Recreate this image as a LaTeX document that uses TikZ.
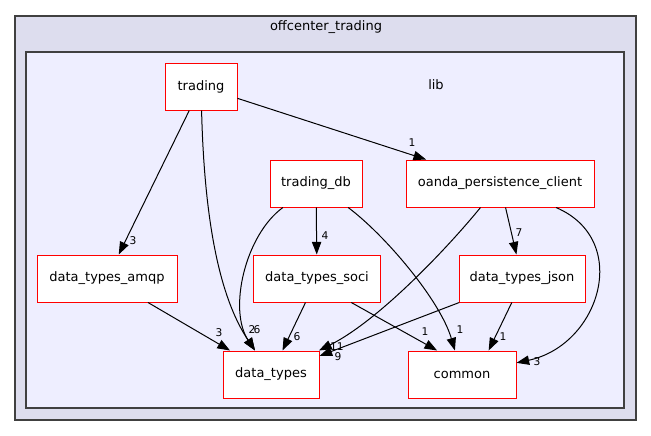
\documentclass[tikz,border=0pt]{standalone}
\usepackage{fontspec}
\setmainfont{DejaVu Sans}
\usetikzlibrary{arrows.meta}
\definecolor{outerbg}{HTML}{DDDDEE}
\definecolor{innerbg}{HTML}{EEEEFF}
\definecolor{frame}{HTML}{404040}

\begin{document}
\begin{tikzpicture}[x=0.75pt,y=-0.75pt,
  dir/.style={draw=red,fill=white,line width=0.75pt,minimum height=35.25pt,inner sep=0pt,font=\fontsize{9.75}{12}\selectfont},
  dep/.style={-{Triangle[length=9.5pt,width=7pt]},black,line width=0.75pt},
  num/.style={font=\fontsize{8}{9}\selectfont,inner sep=0pt},
  title/.style={font=\fontsize{9.75}{12}\selectfont,inner sep=0pt}]
\useasboundingbox (0,0) rectangle (651,436);
\draw[frame,fill=outerbg,line width=0.9pt] (15,16) rectangle (636,420);
\node[title] (offcenter) at (326,27) {offcenter\_trading};
\draw[frame,fill=innerbg,line width=0.9pt] (26,52) rectangle (624,408);
\node[title] (lib) at (436,85) {lib};

\node[dir,minimum width=54pt] (trading) at (201,86.5) {trading};
\node[dir,minimum width=69pt] (tradingdb) at (316,183.5) {trading\_db};
\node[dir,minimum width=141pt] (oanda) at (500,183.5) {oanda\_persistence\_client};
\node[dir,minimum width=105pt] (amqp) at (107,278.5) {data\_types\_amqp};
\node[dir,minimum width=95.25pt] (soci) at (317,278.5) {data\_types\_soci};
\node[dir,minimum width=94.5pt] (json) at (522,278.5) {data\_types\_json};
\node[dir,minimum width=72pt] (types) at (271,374.5) {data\_types};
\node[dir,minimum width=81pt] (common) at (462,374.5) {common};

\draw[dep] (trading) -- (oanda);
\draw[dep] (trading) -- (amqp);
\draw[dep] (trading) .. controls (205,250) and (228,310) .. (types);
\draw[dep] (tradingdb) .. controls (245,235) and (228,310) .. (types);
\draw[dep] (tradingdb) -- (soci);
\draw[dep] (tradingdb) .. controls (385,235) and (440,300) .. (common);
\draw[dep] (oanda) .. controls (450,245) and (380,320) .. (types);
\draw[dep] (oanda) -- (json);
\draw[dep] (oanda) .. controls (632,240) and (600,345) .. (common);
\draw[dep] (amqp) -- (types);
\draw[dep] (soci) -- (types);
\draw[dep] (soci.325) -- (common.136);
\draw[dep] (json.247) -- (common.42);
\draw[dep] (json) -- (types);

\node[num] (l-tr-oa) at (412,143) {1};
\node[num] (l-tr-am) at (133,241) {3};
\node[num] (l-tr-ty) at (252,330) {2};
\node[num] (l-db-ty) at (257,330) {6};
\node[num] (l-db-so) at (325,236) {4};
\node[num] (l-db-co) at (460,330) {1};
\node[num] (l-oa-js) at (519,233) {7};
\node[num] (l-oa-ty) at (337,347) {11};
\node[num] (l-oa-co) at (537,362) {3};
\node[num] (l-am-ty) at (219,333) {3};
\node[num] (l-so-ty) at (297,337) {6};
\node[num] (l-so-co) at (425,332) {1};
\node[num] (l-js-co) at (503,337) {1};
\node[num] (l-js-ty) at (338,357) {9};
\end{tikzpicture}
\end{document}
